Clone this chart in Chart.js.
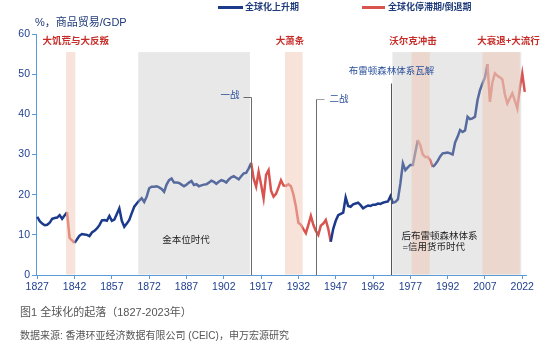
<!DOCTYPE html>
<html><head><meta charset="utf-8">
<script src="https://cdn.jsdelivr.net/npm/chart.js@4.4.1/dist/chart.umd.min.js"></script>
<style>html,body{margin:0;padding:0;background:#fff;} #wrap{position:relative;width:556px;height:353px;}</style>
</head><body><div id="wrap"><canvas id="c" width="556" height="353"></canvas></div>
<script>
// ---------- data ----------
const FIRST_YEAR = 1827;
const tradeShare = [
  14.5,13.4,12.8,12.4,12.5,13.0,14.0,14.2,14.3,14.9,
  14.0,14.8,15.6,9.2,8.6,8.0,8.9,9.8,10.2,10.1,
  10.0,9.7,10.6,11.0,11.6,12.4,13.6,13.7,13.5,14.7,
  13.5,13.8,15.2,16.6,13.5,12.0,12.8,13.7,15.4,17.0,
  17.8,18.5,19.1,18.2,19.5,21.6,22.0,22.0,22.1,21.8,
  21.4,20.7,22.5,23.6,24.0,23.0,23.0,22.9,22.5,22.1,
  22.5,23.0,23.4,22.4,22.6,22.1,22.3,22.5,22.6,23.0,
  23.5,23.2,22.7,23.2,23.6,23.4,23.0,23.8,24.3,24.6,
  24.2,23.8,24.6,25.3,25.4,26.5,27.9,24.0,22.0,25.7,
  22.5,19.1,24.9,26.1,21.0,19.5,20.2,21.8,23.6,22.3,
  22.2,22.6,22.1,20.0,17.0,13.0,12.5,11.4,10.4,12.5,
  14.7,12.5,11.0,10.0,12.3,12.8,13.7,11.5,8.3,11.5,
  13.5,14.9,15.2,15.5,19.3,17.2,17.0,17.6,17.8,18.0,
  17.4,16.6,17.0,17.3,17.2,17.5,17.5,17.8,17.7,18.0,
  18.2,18.3,19.6,18.0,18.2,18.8,22.8,27.8,26.1,26.8,
  27.4,27.4,30.5,33.6,32.3,30.0,29.4,29.4,28.6,26.9,
  27.5,28.4,29.5,30.3,30.4,30.5,30.3,30.0,33.0,34.4,
  36.1,35.6,36.0,39.4,38.8,39.0,39.4,43.5,46.0,47.7,
  49.2,52.5,43.1,48.0,50.2,49.6,49.2,48.7,45.0,42.7,
  44.0,45.2,43.5,41.5,46.5,50.2,45.6
];
const years = tradeShare.map((_, i) => FIRST_YEAR + i);
const tickYears = [1827,1842,1857,1872,1887,1902,1917,1932,1947,1962,1977,1992,2007,2022];
const yTickValues = [0,10,20,30,40,50,60];
const stagnationPeriods = [[1839,1842],[1913,1945],[1980,1986],[2008,2023]];
const seriesNames = ['全球化上升期','全球化停滞期/倒退期'];
const greyEras = [[1867.6,1912.5],[1969.8,2021.6]];
const shockBands = [[1838.6,1842.3],[1926.6,1933.7],[1977.5,1984.8],[2006,2021]];
const shockLabels = ['大饥荒与大反叛','大萧条','沃尔克冲击','大衰退+大流行'];
const shockLabelYears = [1842.5,1928.6,1978.1,2016.5];
const eraLabels = ['金本位时代','后布雷顿森林体系','=信用货币时代'];
const eventNames = ['一战','二战','布雷顿森林体系瓦解'];
const eventYears = [1913,1939,1969.3];
const yAxisTitle = '%，商品贸易/GDP';
const captionText = '图1 全球化的起落（1827-2023年）';
const sourceText = '数据来源: 香港环亚经济数据有限公司 (CEIC)，申万宏源研究';

// ---------- styles ----------
const BLUE = '#1b3a8c';
const RED = '#d9534f';
const AXIS = '#5b9bd5';
const TICK_TXT = '#1f3f8f';
const LABEL_RED = '#c62d28';
const FONT = '"Liberation Sans", "Noto Sans CJK SC", sans-serif';
const NUMFONT = '"Liberation Sans Narrow", "Liberation Sans", sans-serif';
const BAND_TOP = 55.5;

const isStagnant = yr => stagnationPeriods.some(([a,b]) => yr >= a && yr < b);

const overlayPlugin = {
  id: 'overlay',
  afterDatasetsDraw(chart) {
    const {ctx, scales:{x, y}} = chart;
    const top = y.getPixelForValue(BAND_TOP);
    const bottom = y.getPixelForValue(0) - 0.5;
    ctx.save();
    ctx.fillStyle = 'rgba(192,192,192,0.37)';
    greyEras.forEach(([a,b]) => {
      const xa = x.getPixelForValue(a), xb = x.getPixelForValue(b);
      ctx.fillRect(xa, top, xb - xa, bottom - top);
    });
    ctx.fillStyle = 'rgba(240,200,180,0.5)';
    shockBands.forEach(([a,b]) => {
      const xa = x.getPixelForValue(a), xb = x.getPixelForValue(b);
      ctx.fillRect(xa, top, xb - xa, bottom - top);
    });
    // shock labels
    ctx.fillStyle = LABEL_RED;
    ctx.font = 'bold 9.5px ' + FONT;
    ctx.textAlign = 'center'; ctx.textBaseline = 'middle';
    shockLabels.forEach((t, i) => ctx.fillText(t, x.getPixelForValue(shockLabelYears[i]), y.getPixelForValue(58.2)));
    // event lines
    const base = y.getPixelForValue(0);
    ctx.lineWidth = 1;
    ctx.font = '9.5px ' + FONT;
    // WWI
    let ex = Math.round(x.getPixelForValue(eventYears[0])) + 0.5;
    let ey = Math.round(y.getPixelForValue(44.3)) + 0.5;
    ctx.strokeStyle = '#6b6b6b';
    ctx.beginPath(); ctx.moveTo(ex - 8, ey); ctx.lineTo(ex, ey); ctx.lineTo(ex, base); ctx.stroke();
    ctx.fillStyle = '#2a4f9c';
    ctx.textAlign = 'right'; ctx.fillText(eventNames[0], ex - 12, ey - 2);
    // WWII
    ex = Math.round(x.getPixelForValue(eventYears[1])) + 0.5;
    ey = Math.round(y.getPixelForValue(43.8)) + 0.5;
    ctx.strokeStyle = '#a0a0a0';
    ctx.beginPath(); ctx.moveTo(ex + 8, ey); ctx.lineTo(ex, ey); ctx.stroke();
    ctx.strokeStyle = '#6b6b6b';
    ctx.beginPath(); ctx.moveTo(ex, ey); ctx.lineTo(ex, base); ctx.stroke();
    ctx.textAlign = 'left'; ctx.fillText(eventNames[1], ex + 13, ey);
    // Bretton Woods
    ex = Math.round(x.getPixelForValue(eventYears[2])) + 0.5;
    ey = Math.round(y.getPixelForValue(47.8)) + 0.5;
    ctx.strokeStyle = '#555';
    ctx.beginPath(); ctx.moveTo(ex, ey); ctx.lineTo(ex, base); ctx.stroke();
    ctx.textAlign = 'center'; ctx.fillText(eventNames[2], ex, y.getPixelForValue(50.6));
    // era labels
    ctx.fillStyle = '#222';
    ctx.textAlign = 'center';
    ctx.fillText(eraLabels[0], x.getPixelForValue(1886.8), y.getPixelForValue(8.5));
    ctx.textAlign = 'left';
    ctx.fillText(eraLabels[1], x.getPixelForValue(1973.4), y.getPixelForValue(9.7));
    ctx.fillText(eraLabels[2], x.getPixelForValue(1973.8), y.getPixelForValue(7.0));
    ctx.restore();
  },
  afterDraw(chart) {
    const ctx = chart.ctx;
    ctx.save();
    ctx.textBaseline = 'middle';
    // axis title
    ctx.fillStyle = '#1f3b7a';
    ctx.font = '11px ' + FONT;
    ctx.textAlign = 'left';
    ctx.fillText(yAxisTitle, 35, 22.5);
    // legend
    ctx.lineWidth = 3;
    ctx.strokeStyle = BLUE;
    ctx.beginPath(); ctx.moveTo(218, 7.5); ctx.lineTo(243, 7.5); ctx.stroke();
    ctx.strokeStyle = RED;
    ctx.beginPath(); ctx.moveTo(362, 7.5); ctx.lineTo(385, 7.5); ctx.stroke();
    ctx.fillStyle = '#1f3b7a';
    ctx.font = 'bold 9px ' + FONT;
    ctx.fillText(seriesNames[0], 245, 7.5);
    ctx.fillText(seriesNames[1], 388, 7.5);
    // caption + source
    ctx.fillStyle = '#555';
    ctx.font = '11px ' + FONT;
    ctx.fillText(captionText, 20, 313);
    ctx.font = '10px ' + FONT;
    ctx.fillText(sourceText, 20, 336);
    ctx.restore();
  }
};

new Chart(document.getElementById('c'), {
  type: 'line',
  data: {
    datasets: [{
      label: 'trade',
      data: years.map((yr, i) => ({x: yr, y: tradeShare[i]})),
      borderColor: BLUE,
      borderWidth: 2.5,
      pointRadius: 0,
      tension: 0,
      fill: false,
      segment: { borderColor: c => isStagnant(c.p0.parsed.x) ? RED : BLUE }
    }]
  },
  options: {
    responsive: false,
    animation: false,
    devicePixelRatio: 1,
    layout: { padding: { top: 34, right: 30, left: 0, bottom: 0 } },
    plugins: { legend: { display: false }, tooltip: { enabled: false }, title: { display: false } },
    scales: {
      x: {
        type: 'linear', min: 1826.5, max: 2023.5,
        afterBuildTicks: s => { s.ticks = tickYears.map(v => ({value: v})); },
        afterFit: s => { s.height = 78; },
        ticks: { autoSkip: false, maxRotation: 0, color: TICK_TXT, padding: 2,
                 font: { family: NUMFONT, size: 10.5 }, callback: v => String(v) },
        grid: { drawOnChartArea: false, drawTicks: true, tickLength: 4, color: AXIS },
        border: { color: AXIS, width: 1 }
      },
      y: {
        min: 0, max: 60,
        afterBuildTicks: s => { s.ticks = yTickValues.map(v => ({value: v})); },
        afterFit: s => { s.width = 36; },
        ticks: { color: TICK_TXT, padding: 2, font: { family: NUMFONT, size: 10.5 } },
        grid: { drawOnChartArea: false, drawTicks: true, tickLength: 4, color: AXIS },
        border: { color: AXIS, width: 1 }
      }
    }
  },
  plugins: [overlayPlugin]
});
</script>
</body></html>
